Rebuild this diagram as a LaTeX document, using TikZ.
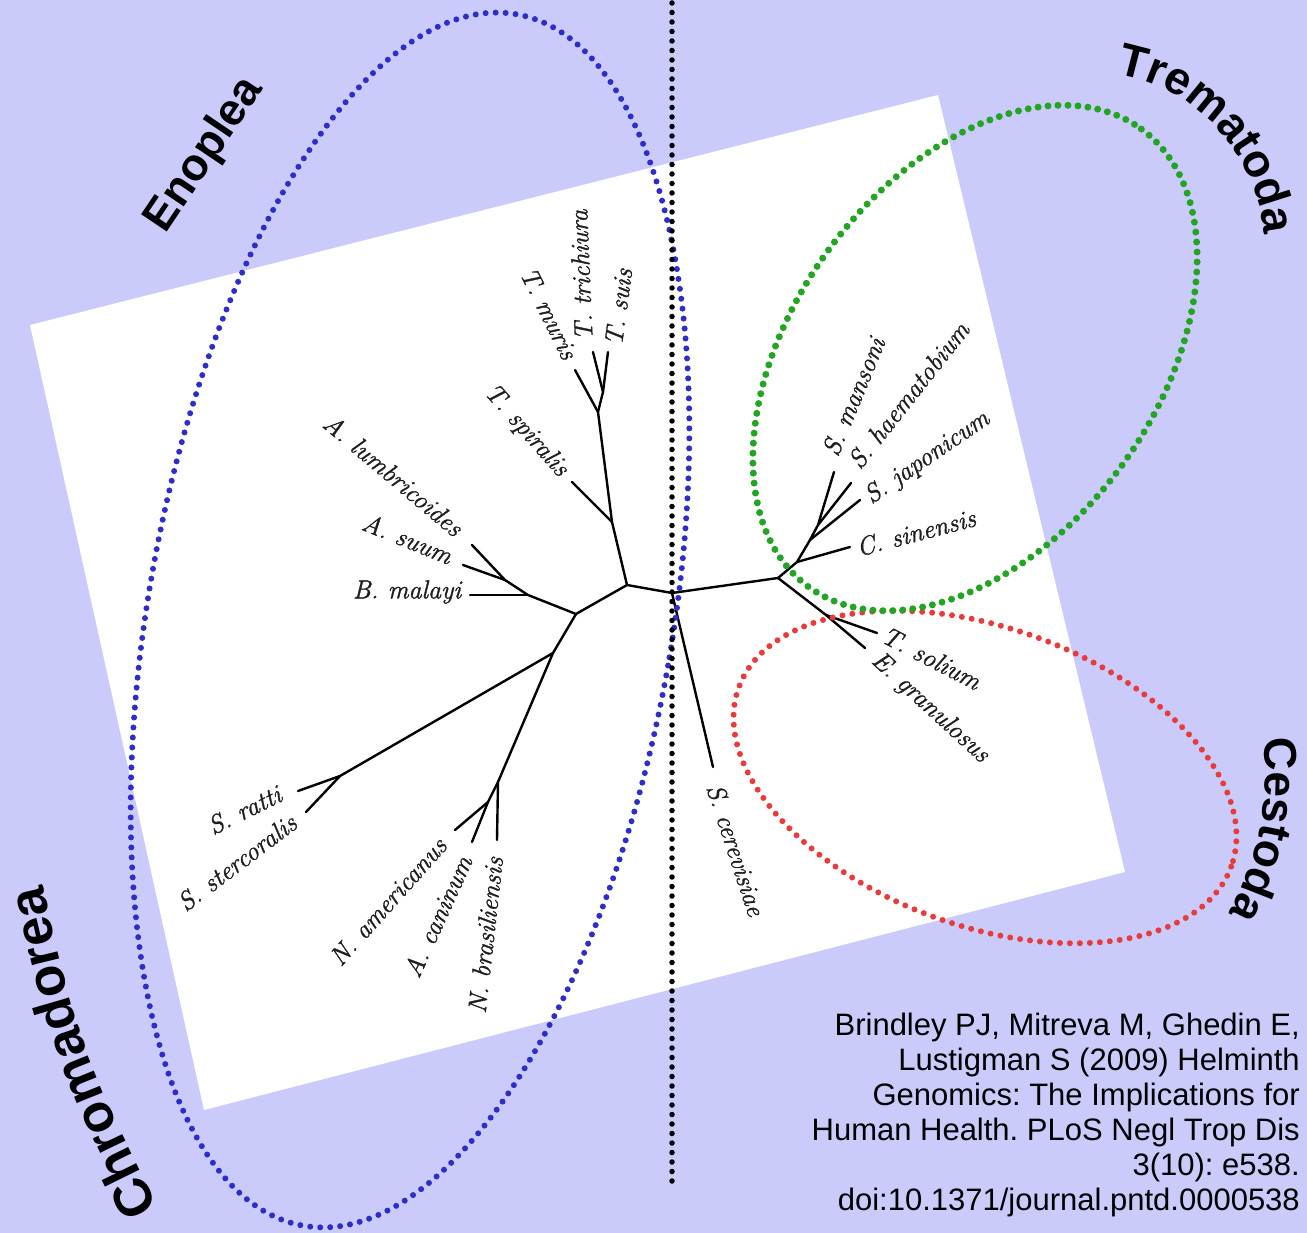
\documentclass[tikz,border=0pt]{standalone}
\usepackage{fontspec}
\newfontfamily\citefont{Liberation Sans}
\newfontfamily\groupfont{Liberation Sans}
\newfontfamily\specfont{Latin Modern Roman}[FakeBold=1.2]
\usetikzlibrary{decorations.text}
\definecolor{bglav}{RGB}{203,203,251}
\definecolor{dotblue}{RGB}{45,45,200}
\definecolor{dotgreen}{RGB}{35,165,35}
\definecolor{dotred}{RGB}{232,60,60}
\definecolor{labelgray}{RGB}{30,30,30}
\begin{document}
\begin{tikzpicture}[x=1pt,y=-1pt,
  branch/.style={line width=2.4pt, line cap=round, line join=round, black},
  species/.style={font=\specfont\itshape\fontsize{26}{30}\selectfont, text=labelgray, inner sep=0pt},
  grouplabel/.style={font=\groupfont\bfseries\fontsize{45}{50}\selectfont, inner sep=0pt},
  citestyle/.style={font=\citefont\fontsize{31}{35}\selectfont\frenchspacing, inner sep=0pt, align=right},
  dotline/.style={line cap=round, dash pattern=on 0pt off 10pt},
  bluedots/.style={dotline, dotblue, line width=6pt},
  greendots/.style={dotline, dotgreen, line width=7pt},
  reddots/.style={dotline, dotred, line width=6pt},
  blackdots/.style={line cap=round, dash pattern=on 0pt off 9.5pt, black, line width=5.5pt}]

\useasboundingbox (0,0) rectangle (1307,1233);
\fill[bglav] (0,0) rectangle (1307,1233);
\fill[white] (30,325) -- (938,95) -- (1125,872) -- (204,1110) -- cycle;

% ---- tree coordinates ----
\coordinate (root) at (672,593);
\coordinate (N2) at (627,585);
\coordinate (N1) at (576,614);
\coordinate (Bj) at (528,595);
\coordinate (Aj) at (505,580);
\coordinate (tAlum) at (472,545);
\coordinate (tAsuum) at (463,565);
\coordinate (tBmal) at (470,595);
\coordinate (N3) at (612,522);
\coordinate (tTspi) at (572,482);
\coordinate (N4) at (598,412);
\coordinate (tTmur) at (575,370);
\coordinate (N5) at (603,392);
\coordinate (tTtri) at (593,352);
\coordinate (tTsuis) at (608,352);
\coordinate (N6) at (553,653);
\coordinate (N7) at (340,776);
\coordinate (tSrat) at (298,791);
\coordinate (tSste) at (306,812);
\coordinate (N8) at (498,782);
\coordinate (N9) at (488,802);
\coordinate (tName) at (455,830);
\coordinate (tAcan) at (472,842);
\coordinate (tNbra) at (497,840);
\coordinate (R) at (778,578);
\coordinate (R1) at (797,562);
\coordinate (tCsin) at (850,547);
\coordinate (R2) at (810,540);
\coordinate (tSjap) at (860,500);
\coordinate (R3) at (818,525);
\coordinate (tSman) at (834,472);
\coordinate (tShae) at (851,483);
\coordinate (R4) at (826,615);
\coordinate (tTsol) at (877,633);
\coordinate (tEgra) at (865,648);
\coordinate (tScer) at (713,767);

% ---- tree branches ----
\draw[branch] (R) -- (root) -- (N2) -- (N1) -- (Bj) -- (Aj) -- (tAlum);
\draw[branch] (Aj) -- (tAsuum);
\draw[branch] (Bj) -- (tBmal);
\draw[branch] (N2) -- (N3) -- (N4) -- (N5) -- (tTtri);
\draw[branch] (N3) -- (tTspi);
\draw[branch] (N4) -- (tTmur);
\draw[branch] (N5) -- (tTsuis);
\draw[branch] (N1) -- (N6) -- (N7) -- (tSrat);
\draw[branch] (N7) -- (tSste);
\draw[branch] (N6) -- (N8) -- (N9) -- (tName);
\draw[branch] (N9) -- (tAcan);
\draw[branch] (N8) -- (tNbra);
\draw[branch] (root) -- (tScer);
\draw[branch] (R) -- (R1) -- (R2) -- (R3) -- (tSman);
\draw[branch] (R3) -- (tShae);
\draw[branch] (R2) -- (tSjap);
\draw[branch] (R1) -- (tCsin);
\draw[branch] (R) -- (R4) -- (tEgra);
\draw[branch] (R4) -- (tTsol);

% ---- species labels ----
\node[species, rotate=-40.1] (lAlum) at (393.5,475) {A. lumbricoides};
\node[species, rotate=-22.1] (lAsuum) at (407.5,538.5) {A. suum};
\node[species] (lBmal) at (407,592) {B. malayi};
\node[species, rotate=-48.3] (lTspi) at (526,431) {T. spiralis};
\node[species, rotate=-63.7] (lTmur) at (549,313.5) {T. muris};
\node[species, rotate=92.4] (lTtri) at (581,275) {T. trichiura};
\node[species, rotate=82.2] (lTsuis) at (618.5,307) {T. suis};
\node[species, rotate=67.4] (lSman) at (853.5,396.5) {S. mansoni};
\node[species, rotate=51.7] (lShae) at (908.5,395) {S. haematobium};
\node[species, rotate=34.5] (lSjap) at (927.5,458) {S. japonicum};
\node[species, rotate=14.7] (lCsin) at (916,532.5) {C. sinensis};
\node[species, rotate=-27.3] (lTsol) at (931.5,658) {T. solium};
\node[species, rotate=-42.5] (lEgra) at (930,708) {E. granulosus};
\node[species, rotate=26.3] (lSrat) at (244.5,810) {S. ratti};
\node[species, rotate=37.2] (lSste) at (237,862.5) {S. stercoralis};
\node[species, rotate=48.3] (lName) at (388,901.5) {N. americanus};
\node[species, rotate=65.4] (lAcan) at (437.5,916.5) {A. caninum};
\node[species, rotate=83.6] (lNbra) at (485.5,935) {N. brasiliensis};
\node[species, rotate=-71.8] (lScer) at (736,850) {S. cerevisiae};

% ---- group ellipses ----
\draw[reddots, rotate around={-20:(985,777)}] (985,777) ellipse [x radius=262, y radius=149];
\draw[greendots, rotate around={54:(975,358)}] (975,358) ellipse [x radius=283, y radius=182];
\draw[bluedots, rotate around={-10:(410,620)}] (410,620) ellipse [x radius=262, y radius=615];

% ---- divider ----
\coordinate (vtop) at (672,3);
\coordinate (vbot) at (672,1185);
\draw[blackdots] (vtop) -- (vbot);

% ---- group labels ----
\node[grouplabel, rotate=56] (enoplea) at (205,155) {Enoplea};
\path[decorate, decoration={text along path, text align=center,
  text={|\groupfont\bfseries\fontsize{46}{50}\selectfont|Trematoda}}]
  (1062.5,72.5) arc[start angle=-97.5, end angle=12.5, radius=179];
\path[decorate, decoration={text along path, text align=center,
  text={|\groupfont\bfseries\fontsize{46}{50}\selectfont|Cestoda}}]
  (1199.5,595) arc[start angle=-40, end angle=62, radius=280];
\path[decorate, decoration={text along path, text align=center,
  text={|\groupfont\bfseries\fontsize{53}{58}\selectfont|Chromadorea}}]
  (176,1242) .. controls (81,1054) .. (34,848);

% ---- citation ----
\node[citestyle, anchor=north east] (cite) at (1300,1012.5) {Brindley PJ, Mitreva M, Ghedin E,\\Lustigman S (2009) Helminth\\Genomics: The Implications for\\Human Health. PLoS Negl Trop Dis\\3(10): e538.\\doi:10.1371/journal.pntd.0000538};
\end{tikzpicture}
\end{document}
